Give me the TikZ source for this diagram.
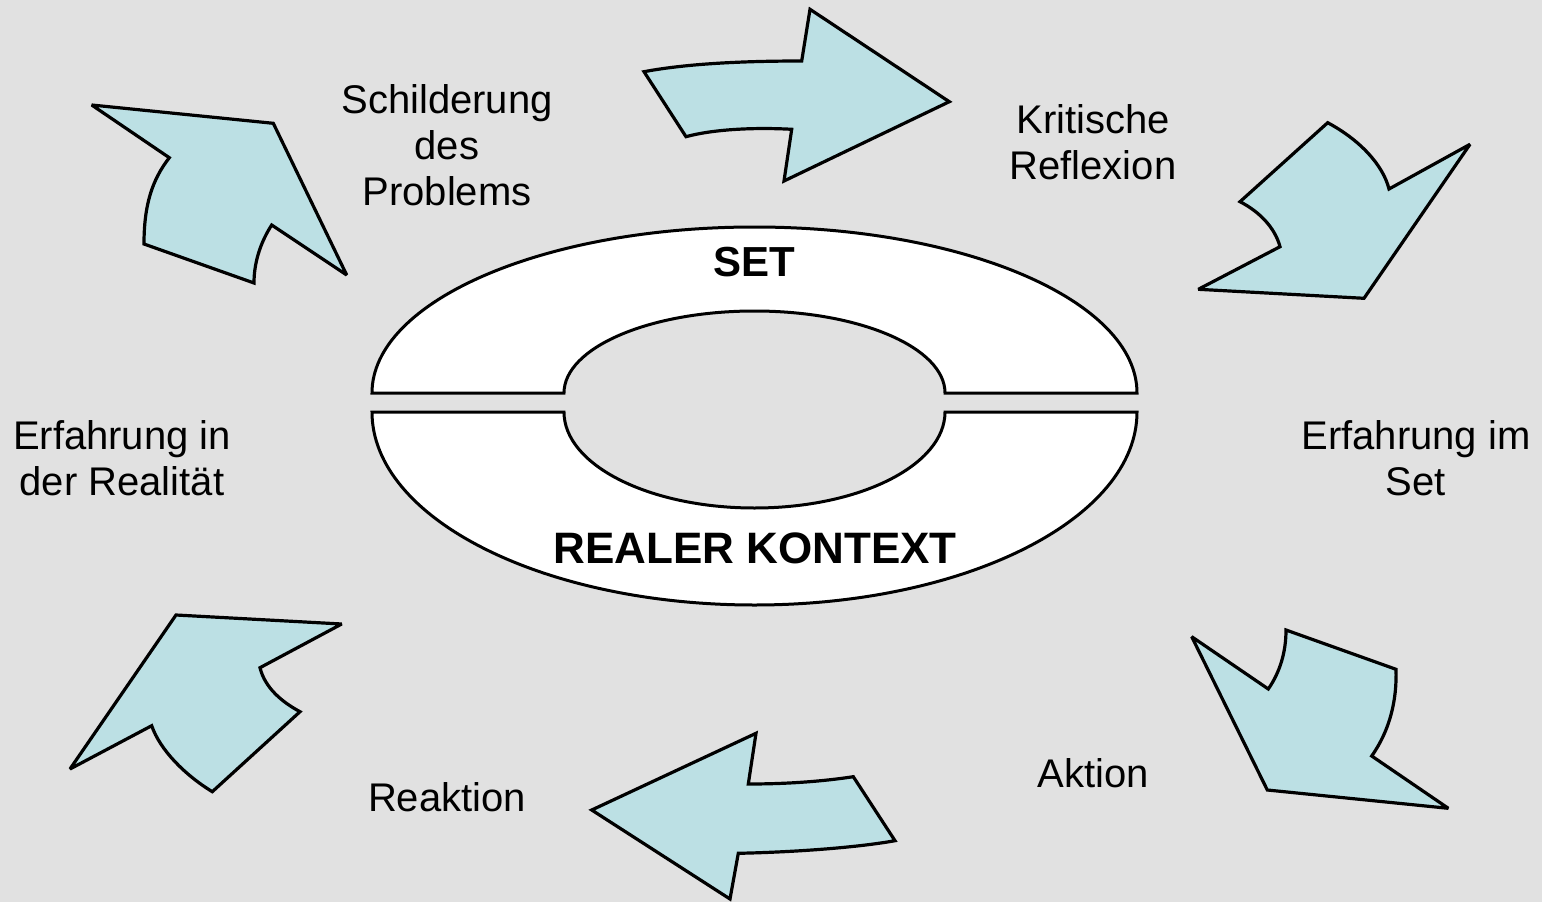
\documentclass[tikz,border=0pt]{standalone}
\usepackage{fontspec}
\setmainfont{Liberation Sans}
\definecolor{bg}{RGB}{225,225,225}
\definecolor{arrowfill}{RGB}{188,224,228}
\begin{document}
\begin{tikzpicture}[x=1pt,y=-1pt,
  arr/.style={draw=black,fill=arrowfill,line width=3.2pt,line join=miter,miter limit=3},
  ring/.style={draw=black,fill=white,line width=3pt},
  lbl/.style={font=\fontsize{40}{46}\selectfont,align=center,inner sep=0pt},
  big/.style={font=\fontsize{42}{48}\selectfont\bfseries,inner sep=0pt}]
\fill[bg] (0,0) rectangle (1542,902);
\useasboundingbox (0,0) rectangle (1542,902);

% ring halves
\draw[ring] (372,393) arc[start angle=180,end angle=360,x radius=382.5,y radius=166]
  -- (945,393) arc[start angle=0,end angle=-180,x radius=190.5,y radius=82] -- cycle;
\draw[ring] (372,412) arc[start angle=180,end angle=0,x radius=382.5,y radius=193]
  -- (945,412) arc[start angle=0,end angle=180,x radius=190.5,y radius=96] -- cycle;

% arrow 1 (top left)
\draw[arr] (91.7,105) -- (273.3,123.3) -- (346.7,275) -- (271.7,225)
  .. controls (262,240) and (254,260) .. (254,283) -- (144,244)
  .. controls (144,205) and (152,180) .. (169.3,157.7) -- cycle;
% arrow 2 (top)
\draw[arr] (644,71.7) .. controls (690,63) and (750,61) .. (801.7,61) -- (810,9.3)
  -- (949.3,101.7) -- (784,181) -- (791.7,129.3)
  .. controls (750,127) and (710,130) .. (686,136.7) -- cycle;
% arrow 3 (top right)
\draw[arr] (1327.7,122.7) .. controls (1360,140) and (1383,165) .. (1389,189)
  -- (1470,144.3) -- (1364,298.3) -- (1198.3,289.3) -- (1280,246.7)
  .. controls (1275,228) and (1260,212) .. (1240,201.7) -- cycle;
% arrow 4 (bottom right)
\draw[arr] (1191.7,636.7) -- (1268.3,689)
  .. controls (1280,672) and (1286,652) .. (1286,630) -- (1396,669.3)
  .. controls (1397,700) and (1390,730) .. (1371.7,756) -- (1448.3,808.3)
  -- (1267.3,790) -- cycle;
% arrow 5 (bottom)
\draw[arr] (591.7,810) -- (756,733.3) -- (748.3,784)
  .. controls (790,784) and (825,781) .. (853.3,776.7) -- (895,840.7)
  .. controls (860,847) and (800,852) .. (738.3,853.3) -- (730,899) -- cycle;
% arrow 6 (bottom left)
\draw[arr] (176,615) -- (341.7,624) -- (260,667.7)
  .. controls (265,688) and (282,702) .. (300,711.7) -- (212.3,791.7)
  .. controls (185,775) and (160,750) .. (151.7,725.7) -- (70,769) -- cycle;

% labels
\node[big] (set) at (754,262) {SET};
\node[big,font=\fontsize{44}{50}\selectfont\bfseries] (real) at (755,548) {REALER KONTEXT};
\node[lbl] (schild) at (447,145) {Schilderung\\des\\Problems};
\node[lbl] (krit) at (1093,142) {Kritische\\Reflexion};
\node[lbl] (erfset) at (1416,458) {Erfahrung im\\Set};
\node[lbl] (aktion) at (1093,773) {Aktion};
\node[lbl] (reaktion) at (447,797) {Reaktion};
\node[lbl] (erfreal) at (122,458) {Erfahrung in\\der Realität};
\end{tikzpicture}
\end{document}
